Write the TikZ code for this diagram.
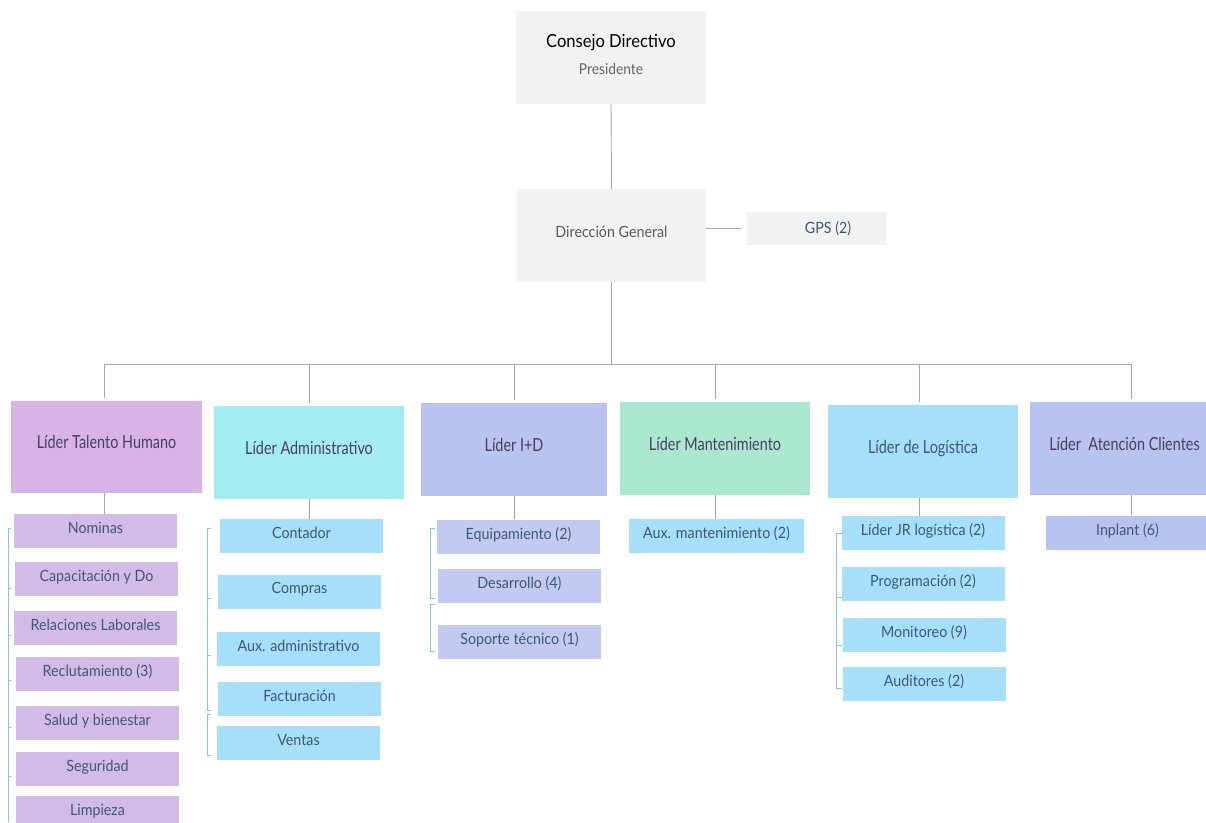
\documentclass[tikz,border=0pt]{standalone}
\usepackage{fontspec}
\setmainfont[FakeStretch=0.92]{Lato}
\newfontfamily\leadfont[FakeStretch=0.8]{Lato}
\usepackage{tikz}
\usetikzlibrary{positioning}

\definecolor{boxgray}{HTML}{F2F2F2}
\definecolor{thpurple}{HTML}{D8B4E6}
\definecolor{subpurple}{HTML}{D3BBE8}
\definecolor{admcyan}{HTML}{A3EDF2}
\definecolor{skyblue}{HTML}{A6DFF9}
\definecolor{periwinkle}{HTML}{B8C3F0}
\definecolor{subperi}{HTML}{C3CAF2}
\definecolor{mint}{HTML}{AAE8D0}
\definecolor{linegray}{HTML}{A6A6A6}
\definecolor{brkteal}{HTML}{86C9CF}
\definecolor{leadtext}{HTML}{4B3D60}
\definecolor{subtext}{HTML}{3E5872}

\begin{document}
\begin{tikzpicture}[
    x=1pt, y=-1pt,
    top/.style = {fill=boxgray, minimum width=190pt, minimum height=93pt, inner sep=0pt, align=center},
    lead/.style = {minimum width=190pt, minimum height=93pt, inner sep=0pt, align=center, text depth=10pt, text=leadtext, font=\leadfont\fontsize{18}{22}\selectfont},
    sub/.style = {minimum width=163pt, minimum height=34pt, inner sep=0pt, align=center, text depth=7pt, text=subtext, font=\fontsize{15.5}{18}\selectfont},
    line/.style = {draw=linegray, line width=0.9pt},
    brk/.style = {draw=brkteal, line width=0.7pt}
]
\clip (0,0) rectangle (1206,822);
\fill[white] (0,0) rectangle (1206,822);

% top of the chart
\node (cd) [top, text depth=6pt] at (611,57.5) {{\fontsize{18}{22}\selectfont Consejo Directivo}\\[12pt]{\fontsize{15}{18}\selectfont\color{black!60} Presidente}};
\node (dg) [top, minimum width=189pt, text depth=8pt, text=black!65, font=\fontsize{15.5}{18}\selectfont] at (611.5,235.5) {Dirección General};
\node (gps) [fill=boxgray, minimum width=139pt, minimum height=33pt, inner sep=0pt, text=subtext, font=\fontsize{15.5}{18}\selectfont] at (816.5,228.5) {\hspace*{23pt}GPS (2)};

% leaders
\node (th) [lead, fill=thpurple, minimum width=191pt, minimum height=92pt] at (106.5,447) {Líder Talento Humano};
\node (adm) [lead, fill=admcyan] at (309,452.5) {Líder Administrativo};
\node (id) [lead, fill=periwinkle, minimum width=186pt] at (514,449.5) {Líder I+D};
\node (mant) [lead, fill=mint] at (715,448.5) {Líder Mantenimiento};
\node (log) [lead, fill=skyblue, text=subtext] at (923,451.5) {Líder de Logística};
\node (cli) [lead, fill=periwinkle] at (1124.5,448.5) {Líder\ \ Atención Clientes};

% Talento Humano
\node (th1) [sub, fill=subpurple] at (95.5,531) {Nominas};
\node (th2) [sub, fill=subpurple] at (96.5,579) {Capacitación y Do};
\node (th3) [sub, fill=subpurple] at (95.5,628) {Relaciones Laborales};
\node (th4) [sub, fill=subpurple] at (97.5,674) {Reclutamiento (3)};
\node (th5) [sub, fill=subpurple] at (97.5,723) {Salud y bienestar};
\node (th6) [sub, fill=subpurple] at (97.5,769) {Seguridad};
\node (th7) [sub, fill=subpurple] at (97.5,813) {Limpieza};

% Administrativo
\node (adm1) [sub, fill=skyblue] at (301.5,536) {Contador};
\node (adm2) [sub, fill=skyblue] at (299.5,591.5) {Compras};
\node (adm3) [sub, fill=skyblue] at (298.5,649) {Aux. administrativo};
\node (adm4) [sub, fill=skyblue] at (299.5,699) {Facturación};
\node (adm5) [sub, fill=skyblue] at (298.5,743) {Ventas};

% I+D
\node (id1) [sub, fill=subperi] at (518.5,536.5) {Equipamiento (2)};
\node (id2) [sub, fill=subperi] at (519.5,586) {Desarrollo (4)};
\node (id3) [sub, fill=subperi] at (519.5,642) {Soporte técnico (1)};

% Mantenimiento
\node (mant1) [sub, fill=skyblue, minimum width=175pt] at (716.5,536) {Aux. mantenimiento (2)};

% Logistica
\node (log1) [sub, fill=skyblue] at (923,533) {Líder JR logística (2)};
\node (log2) [sub, fill=skyblue] at (923,583.5) {Programación (2)};
\node (log3) [sub, fill=skyblue] at (924,634.5) {Monitoreo (9)};
\node (log4) [sub, fill=skyblue] at (924,683.5) {Auditores (2)};

% Atencion Clientes
\node (cli1) [sub, fill=periwinkle] at (1127.5,532.5) {Inplant (6)};

% connectors
\coordinate (bus) at (611,364);
\draw[line] (cd.south) -- (dg.north);
\draw[line, shorten >=6pt] (dg.east |- gps.west) -- (gps.west);
\draw[line] (dg.south) -- (dg.south |- bus);
\draw[line] ([xshift=-2.5pt]th.north |- bus) -- ([xshift=6.5pt]cli.north |- bus);
\foreach \n/\dx in {th/-2.5, adm/0, id/0, mant/0, log/-4, cli/6.5}
    \draw[line, shorten <=3pt] ([xshift=\dx pt]\n.north) -- ([xshift=\dx pt]\n.north |- bus);
\draw[line] ([xshift=-2.5pt]th.south) -- ([xshift=-2.5pt]th.south |- th1.north);
\draw[line] (adm.south) -- (adm.south |- adm1.north);
\draw[line] (id.south) -- (id.south |- id1.north);
\draw[line] (mant.south) -- (mant.south |- mant1.north);
\draw[line] ([xshift=-4pt]log.south) -- ([xshift=-4pt]log.south |- log1.north);
\draw[line] ([xshift=6.5pt]cli.south) -- ([xshift=6.5pt]cli.south |- cli1.north);

% brackets
\draw[brk] (11,528) -| (8,822);
\foreach \y in {588,635,680,727,776}
    \draw[brk] (8,\y) -- (11,\y);
\draw[brk] (211,528) -| (207,710) -- (211,710);
\foreach \y in {598,655}
    \draw[brk] (207,\y) -- (211,\y);
\draw[brk] (211,714) -| (207,755) -- (211,755);
\draw[brk] (435,528) -| (430,598) -- (435,598);
\draw[brk] (435,604) -| (430,651) -- (435,651);
\draw[brk] (842,533) -| (836,688) -- (842,688);
\foreach \y in {597,645}
    \draw[brk] (836,\y) -- (842,\y);
\end{tikzpicture}
\end{document}
